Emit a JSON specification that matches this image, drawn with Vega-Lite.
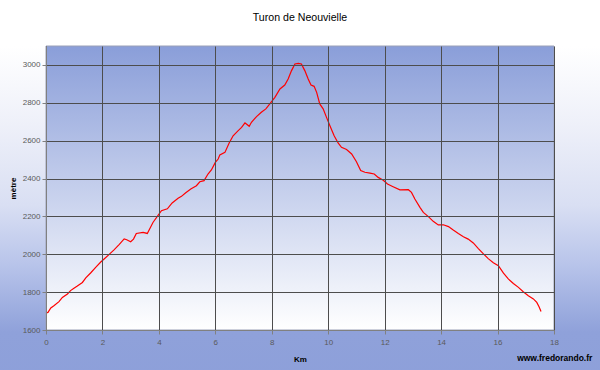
{
  "$schema": "https://vega.github.io/schema/vega-lite/v6.json",
  "autosize": {"type": "none"},
  "padding": {"left": 46, "top": 46, "right": 46, "bottom": 40},
  "width": 508,
  "height": 284,
  "background": "#ffffff",
  "title": {"text": "Turon de Neouvielle", "frame": "group", "anchor": "middle", "offset": 14, "baseline": "alphabetic", "font": "Liberation Sans", "fontSize": 10.6, "fontWeight": "normal", "color": "#000000"},
  "config": {
    "view": {"stroke": null},
    "axis": {"grid": true, "gridColor": "#4d4d4d", "gridWidth": 1, "domainColor": "#808080", "tickColor": "#808080", "tickSize": 4, "labelFont": "Liberation Sans", "labelFontSize": 8, "labelColor": "#5a5a5a", "titleFont": "Liberation Sans", "titleFontSize": 8, "titleFontWeight": "bold", "titleColor": "#000000"}
  },
  "layer": [
    {
      "data": {"values": [{}]},
      "mark": {"type": "rect", "clip": false, "fill": {"gradient": "linear", "x1": 0, "y1": 0, "x2": 0, "y2": 1, "stops": [{"offset": 0, "color": "#ffffff"}, {"offset": 0.2, "color": "#eef0f9"}, {"offset": 0.4, "color": "#d9dff3"}, {"offset": 0.55, "color": "#b8c4ea"}, {"offset": 0.72, "color": "#8fa1da"}, {"offset": 1, "color": "#8b9ed9"}]}},
      "encoding": {
        "x": {"datum": -5, "type": "quantitative", "scale": {"domain": [0, 18], "nice": false, "zero": false}, "axis": {"zindex": 1, "values": [0, 2, 4, 6, 8, 10, 12, 14, 16, 18], "format": "d", "title": "Km", "labelPadding": 4, "titlePadding": 9, "labelFlush": false}},
        "x2": {"datum": 25},
        "y": {"datum": 1000, "type": "quantitative", "scale": {"domain": [1600, 3100], "nice": false, "zero": false}, "axis": {"zindex": 1, "values": [1600, 1800, 2000, 2200, 2400, 2600, 2800, 3000], "format": "d", "title": "mètre", "labelPadding": 2, "titlePadding": 5}},
        "y2": {"datum": 3100}
      }
    },
    {
      "data": {"values": [{}]},
      "mark": {"type": "rect", "clip": false, "stroke": "#9aa0b8", "strokeWidth": 1, "fill": {"gradient": "linear", "x1": 0, "y1": 0, "x2": 0, "y2": 1, "stops": [{"offset": 0, "color": "#8a9ed9"}, {"offset": 1, "color": "#ffffff"}]}},
      "encoding": {"x": {"datum": 0, "type": "quantitative"}, "x2": {"datum": 18}, "y": {"datum": 1600, "type": "quantitative"}, "y2": {"datum": 3100}}
    },
    {
      "data": {"values": [
        {"km": 0.00, "alt": 1690}, {"km": 0.07, "alt": 1693}, {"km": 0.17, "alt": 1716}, {"km": 0.28, "alt": 1728},
        {"km": 0.46, "alt": 1750}, {"km": 0.58, "alt": 1772}, {"km": 0.76, "alt": 1790}, {"km": 0.87, "alt": 1808},
        {"km": 0.99, "alt": 1820}, {"km": 1.11, "alt": 1832}, {"km": 1.29, "alt": 1851}, {"km": 1.41, "alt": 1875},
        {"km": 1.58, "alt": 1901}, {"km": 1.76, "alt": 1931}, {"km": 1.94, "alt": 1959}, {"km": 2.06, "alt": 1975},
        {"km": 2.23, "alt": 1998}, {"km": 2.41, "alt": 2023}, {"km": 2.59, "alt": 2051}, {"km": 2.77, "alt": 2081},
        {"km": 2.86, "alt": 2077}, {"km": 3.00, "alt": 2066}, {"km": 3.10, "alt": 2080}, {"km": 3.20, "alt": 2110},
        {"km": 3.44, "alt": 2116}, {"km": 3.59, "alt": 2110}, {"km": 3.79, "alt": 2168}, {"km": 3.97, "alt": 2205},
        {"km": 4.09, "alt": 2230}, {"km": 4.30, "alt": 2240}, {"km": 4.47, "alt": 2271}, {"km": 4.68, "alt": 2296},
        {"km": 4.80, "alt": 2306}, {"km": 4.94, "alt": 2324}, {"km": 5.13, "alt": 2345}, {"km": 5.33, "alt": 2362},
        {"km": 5.45, "alt": 2383}, {"km": 5.60, "alt": 2389}, {"km": 5.74, "alt": 2424}, {"km": 5.86, "alt": 2445},
        {"km": 6.00, "alt": 2485}, {"km": 6.10, "alt": 2503}, {"km": 6.16, "alt": 2525}, {"km": 6.34, "alt": 2538},
        {"km": 6.49, "alt": 2588}, {"km": 6.63, "alt": 2626}, {"km": 6.81, "alt": 2653}, {"km": 6.93, "alt": 2670},
        {"km": 7.05, "alt": 2694}, {"km": 7.10, "alt": 2688}, {"km": 7.20, "alt": 2676}, {"km": 7.28, "alt": 2697},
        {"km": 7.46, "alt": 2727}, {"km": 7.63, "alt": 2750}, {"km": 7.79, "alt": 2768}, {"km": 7.93, "alt": 2794},
        {"km": 8.11, "alt": 2829}, {"km": 8.29, "alt": 2873}, {"km": 8.46, "alt": 2894}, {"km": 8.58, "alt": 2926},
        {"km": 8.70, "alt": 2970}, {"km": 8.82, "alt": 3005}, {"km": 8.94, "alt": 3008}, {"km": 9.05, "alt": 3005},
        {"km": 9.17, "alt": 2970}, {"km": 9.29, "alt": 2926}, {"km": 9.39, "alt": 2894}, {"km": 9.50, "alt": 2887},
        {"km": 9.59, "alt": 2855}, {"km": 9.70, "alt": 2794}, {"km": 9.82, "alt": 2768}, {"km": 9.94, "alt": 2723},
        {"km": 10.06, "alt": 2679}, {"km": 10.21, "alt": 2626}, {"km": 10.35, "alt": 2588}, {"km": 10.47, "alt": 2565},
        {"km": 10.65, "alt": 2553}, {"km": 10.83, "alt": 2530}, {"km": 11.00, "alt": 2489}, {"km": 11.15, "alt": 2442},
        {"km": 11.30, "alt": 2433}, {"km": 11.48, "alt": 2429}, {"km": 11.63, "alt": 2424}, {"km": 11.77, "alt": 2406},
        {"km": 11.95, "alt": 2391}, {"km": 12.10, "alt": 2371}, {"km": 12.30, "alt": 2357}, {"km": 12.54, "alt": 2340},
        {"km": 12.84, "alt": 2341}, {"km": 12.95, "alt": 2327}, {"km": 13.07, "alt": 2292}, {"km": 13.25, "alt": 2248},
        {"km": 13.37, "alt": 2221}, {"km": 13.55, "alt": 2199}, {"km": 13.72, "alt": 2174}, {"km": 13.90, "alt": 2155},
        {"km": 14.08, "alt": 2156}, {"km": 14.26, "alt": 2146}, {"km": 14.43, "alt": 2128}, {"km": 14.61, "alt": 2110},
        {"km": 14.79, "alt": 2093}, {"km": 14.96, "alt": 2080}, {"km": 15.14, "alt": 2060}, {"km": 15.32, "alt": 2030},
        {"km": 15.50, "alt": 2002}, {"km": 15.67, "alt": 1977}, {"km": 15.85, "alt": 1955}, {"km": 16.03, "alt": 1940},
        {"km": 16.21, "alt": 1900}, {"km": 16.38, "alt": 1870}, {"km": 16.56, "alt": 1846}, {"km": 16.74, "alt": 1825},
        {"km": 16.91, "alt": 1802}, {"km": 17.09, "alt": 1781}, {"km": 17.27, "alt": 1764}, {"km": 17.39, "alt": 1746},
        {"km": 17.47, "alt": 1723}, {"km": 17.54, "alt": 1698}
      ]},
      "mark": {"type": "line", "color": "#ff0000", "strokeWidth": 1.2, "clip": true},
      "encoding": {
        "x": {"field": "km", "type": "quantitative", "title": "Km"},
        "y": {"field": "alt", "type": "quantitative", "title": "mètre"}
      }
    },
    {
      "data": {"values": [{"site": "www.fredorando.fr"}]},
      "mark": {"type": "text", "align": "right", "baseline": "alphabetic", "font": "Liberation Sans", "fontSize": 8.5, "fontWeight": "bold", "color": "#000000", "clip": false},
      "encoding": {"text": {"field": "site"}, "x": {"datum": 19.36, "type": "quantitative"}, "y": {"datum": 1438, "type": "quantitative"}}
    }
  ]
}
